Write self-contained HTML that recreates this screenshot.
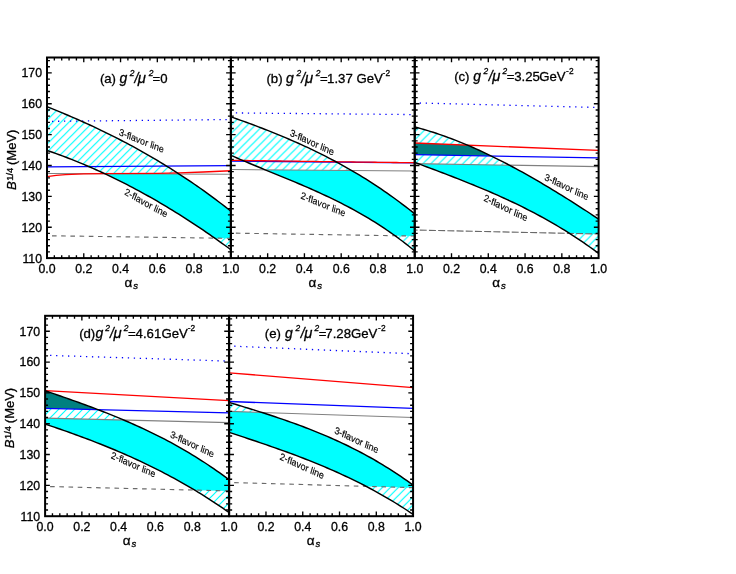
<!DOCTYPE html><html><head><meta charset="utf-8"><style>html,body{margin:0;padding:0;background:#fff}text{stroke:#000;stroke-width:0.3px;stroke-linejoin:round}</style></head><body><svg width="736" height="574" viewBox="0 0 736 574" style="display:block;will-change:transform;font-family:'Liberation Sans',sans-serif">
<defs>
<pattern id="hatcha" patternUnits="userSpaceOnUse" width="8.0" height="8.0" x="7.2" y="0"><path d="M-8.0,8.0 L8.0,-8.0 M0,8.0 L8.0,0 M0,16.0 L16.0,0" stroke="#00ffff" stroke-width="1.2" fill="none"/></pattern>
<pattern id="hatchb" patternUnits="userSpaceOnUse" width="8.0" height="8.0" x="4.5" y="0"><path d="M-8.0,8.0 L8.0,-8.0 M0,8.0 L8.0,0 M0,16.0 L16.0,0" stroke="#00ffff" stroke-width="1.2" fill="none"/></pattern>
<pattern id="hatchc" patternUnits="userSpaceOnUse" width="8.0" height="8.0" x="2.6" y="0"><path d="M-8.0,8.0 L8.0,-8.0 M0,8.0 L8.0,0 M0,16.0 L16.0,0" stroke="#00ffff" stroke-width="1.2" fill="none"/></pattern>
<pattern id="hatchd" patternUnits="userSpaceOnUse" width="8.0" height="8.0" x="4.0" y="0"><path d="M-8.0,8.0 L8.0,-8.0 M0,8.0 L8.0,0 M0,16.0 L16.0,0" stroke="#00ffff" stroke-width="1.2" fill="none"/></pattern>
<pattern id="hatche" patternUnits="userSpaceOnUse" width="8.0" height="8.0" x="5.8" y="0"><path d="M-8.0,8.0 L8.0,-8.0 M0,8.0 L8.0,0 M0,16.0 L16.0,0" stroke="#00ffff" stroke-width="1.2" fill="none"/></pattern>
</defs>
<rect width="736" height="574" fill="#fff"/>
<clipPath id="banda"><path d="M47.00,106.71 L50.06,107.93 L53.13,109.17 L56.19,110.41 L59.26,111.67 L62.32,112.94 L65.39,114.23 L68.45,115.52 L71.52,116.84 L74.58,118.16 L77.64,119.51 L80.71,120.86 L83.77,122.24 L86.84,123.62 L89.90,125.03 L92.97,126.45 L96.03,127.88 L99.10,129.33 L102.16,130.80 L105.23,132.29 L108.29,133.79 L111.35,135.31 L114.42,136.85 L117.48,138.41 L120.55,139.99 L123.61,141.58 L126.68,143.19 L129.74,144.83 L132.81,146.48 L135.87,148.15 L138.94,149.84 L142.00,151.55 L145.06,153.28 L148.13,155.04 L151.19,156.81 L154.26,158.61 L157.32,160.42 L160.39,162.26 L163.45,164.12 L166.52,166.01 L169.58,167.91 L172.64,169.84 L175.71,171.79 L178.77,173.77 L181.84,175.77 L184.90,177.79 L187.97,179.84 L191.03,181.91 L194.10,184.01 L197.16,186.13 L200.23,188.28 L203.29,190.45 L206.35,192.65 L209.42,194.87 L212.48,197.12 L215.55,199.40 L218.61,201.71 L221.68,204.04 L224.74,206.40 L227.81,208.78 L230.87,211.20 L230.87,249.77 L227.81,247.51 L224.74,245.28 L221.68,243.06 L218.61,240.87 L215.55,238.69 L212.48,236.54 L209.42,234.41 L206.35,232.29 L203.29,230.20 L200.23,228.13 L197.16,226.07 L194.10,224.04 L191.03,222.03 L187.97,220.04 L184.90,218.07 L181.84,216.12 L178.77,214.19 L175.71,212.28 L172.64,210.39 L169.58,208.52 L166.52,206.67 L163.45,204.84 L160.39,203.03 L157.32,201.24 L154.26,199.47 L151.19,197.73 L148.13,196.00 L145.06,194.29 L142.00,192.60 L138.94,190.94 L135.87,189.29 L132.81,187.66 L129.74,186.06 L126.68,184.47 L123.61,182.91 L120.55,181.36 L117.48,179.84 L114.42,178.34 L111.35,176.85 L108.29,175.39 L105.23,173.94 L102.16,172.52 L99.10,171.12 L96.03,169.74 L92.97,168.37 L89.90,167.03 L86.84,165.71 L83.77,164.41 L80.71,163.13 L77.64,161.87 L74.58,160.63 L71.52,159.41 L68.45,158.21 L65.39,157.03 L62.32,155.87 L59.26,154.73 L56.19,153.62 L53.13,152.52 L50.06,151.44 L47.00,150.38 Z"/></clipPath>
<clipPath id="fra"><rect x="47.00" y="57.50" width="183.87" height="200.60"/></clipPath>
<g clip-path="url(#fra)">
<g clip-path="url(#banda)">
<path d="M47.00,106.71 L50.06,107.93 L53.13,109.17 L56.19,110.41 L59.26,111.67 L62.32,112.94 L65.39,114.23 L68.45,115.52 L71.52,116.84 L74.58,118.16 L77.64,119.51 L80.71,120.86 L83.77,122.24 L86.84,123.62 L89.90,125.03 L92.97,126.45 L96.03,127.88 L99.10,129.33 L102.16,130.80 L105.23,132.29 L108.29,133.79 L111.35,135.31 L114.42,136.85 L117.48,138.41 L120.55,139.99 L123.61,141.58 L126.68,143.19 L129.74,144.83 L132.81,146.48 L135.87,148.15 L138.94,149.84 L142.00,151.55 L145.06,153.28 L148.13,155.04 L151.19,156.81 L154.26,158.61 L157.32,160.42 L160.39,162.26 L163.45,164.12 L166.52,166.01 L169.58,167.91 L172.64,169.84 L175.71,171.79 L178.77,173.77 L181.84,175.77 L184.90,177.79 L187.97,179.84 L191.03,181.91 L194.10,184.01 L197.16,186.13 L200.23,188.28 L203.29,190.45 L206.35,192.65 L209.42,194.87 L212.48,197.12 L215.55,199.40 L218.61,201.71 L221.68,204.04 L224.74,206.40 L227.81,208.78 L230.87,211.20 L230.87,249.77 L227.81,247.51 L224.74,245.28 L221.68,243.06 L218.61,240.87 L215.55,238.69 L212.48,236.54 L209.42,234.41 L206.35,232.29 L203.29,230.20 L200.23,228.13 L197.16,226.07 L194.10,224.04 L191.03,222.03 L187.97,220.04 L184.90,218.07 L181.84,216.12 L178.77,214.19 L175.71,212.28 L172.64,210.39 L169.58,208.52 L166.52,206.67 L163.45,204.84 L160.39,203.03 L157.32,201.24 L154.26,199.47 L151.19,197.73 L148.13,196.00 L145.06,194.29 L142.00,192.60 L138.94,190.94 L135.87,189.29 L132.81,187.66 L129.74,186.06 L126.68,184.47 L123.61,182.91 L120.55,181.36 L117.48,179.84 L114.42,178.34 L111.35,176.85 L108.29,175.39 L105.23,173.94 L102.16,172.52 L99.10,171.12 L96.03,169.74 L92.97,168.37 L89.90,167.03 L86.84,165.71 L83.77,164.41 L80.71,163.13 L77.64,161.87 L74.58,160.63 L71.52,159.41 L68.45,158.21 L65.39,157.03 L62.32,155.87 L59.26,154.73 L56.19,153.62 L53.13,152.52 L50.06,151.44 L47.00,150.38 Z" fill="url(#hatcha)"/>
<path d="M47.00,173.54 L230.87,174.31 L230.87,238.35 L47.00,235.73 Z" fill="#00ffff"/>
</g>
<path d="M47.00,173.54 L230.87,174.31" stroke="#808080" stroke-width="1.1" fill="none"/>
<path d="M47.00,235.73 L230.87,238.35" stroke="#6a6a6a" stroke-width="1.15" stroke-dasharray="4.6,4.6" stroke-dashoffset="4.2" fill="none"/>
<path d="M47.00,166.90 L230.87,165.67" stroke="#0000ff" stroke-width="1.3" fill="none"/>
<path d="M47.00,176.63 L56.19,175.39 L65.39,174.62 L83.77,173.85 L102.16,173.54 L157.32,173.39 L179.39,172.92 L203.29,172.00 L230.87,170.76" stroke="#ff0000" stroke-width="1.3" fill="none" stroke-linejoin="round"/>
<path d="M47.00,121.38 L230.87,119.53" stroke="#0000ff" stroke-width="1.3" stroke-dasharray="1.3,4.68" stroke-dashoffset="-5" fill="none"/>
<path d="M47.00,106.71 L50.06,107.93 L53.13,109.17 L56.19,110.41 L59.26,111.67 L62.32,112.94 L65.39,114.23 L68.45,115.52 L71.52,116.84 L74.58,118.16 L77.64,119.51 L80.71,120.86 L83.77,122.24 L86.84,123.62 L89.90,125.03 L92.97,126.45 L96.03,127.88 L99.10,129.33 L102.16,130.80 L105.23,132.29 L108.29,133.79 L111.35,135.31 L114.42,136.85 L117.48,138.41 L120.55,139.99 L123.61,141.58 L126.68,143.19 L129.74,144.83 L132.81,146.48 L135.87,148.15 L138.94,149.84 L142.00,151.55 L145.06,153.28 L148.13,155.04 L151.19,156.81 L154.26,158.61 L157.32,160.42 L160.39,162.26 L163.45,164.12 L166.52,166.01 L169.58,167.91 L172.64,169.84 L175.71,171.79 L178.77,173.77 L181.84,175.77 L184.90,177.79 L187.97,179.84 L191.03,181.91 L194.10,184.01 L197.16,186.13 L200.23,188.28 L203.29,190.45 L206.35,192.65 L209.42,194.87 L212.48,197.12 L215.55,199.40 L218.61,201.71 L221.68,204.04 L224.74,206.40 L227.81,208.78 L230.87,211.20" stroke="#000" stroke-width="1.45" fill="none"/>
<path d="M47.00,150.38 L50.06,151.44 L53.13,152.52 L56.19,153.62 L59.26,154.73 L62.32,155.87 L65.39,157.03 L68.45,158.21 L71.52,159.41 L74.58,160.63 L77.64,161.87 L80.71,163.13 L83.77,164.41 L86.84,165.71 L89.90,167.03 L92.97,168.37 L96.03,169.74 L99.10,171.12 L102.16,172.52 L105.23,173.94 L108.29,175.39 L111.35,176.85 L114.42,178.34 L117.48,179.84 L120.55,181.36 L123.61,182.91 L126.68,184.47 L129.74,186.06 L132.81,187.66 L135.87,189.29 L138.94,190.94 L142.00,192.60 L145.06,194.29 L148.13,196.00 L151.19,197.73 L154.26,199.47 L157.32,201.24 L160.39,203.03 L163.45,204.84 L166.52,206.67 L169.58,208.52 L172.64,210.39 L175.71,212.28 L178.77,214.19 L181.84,216.12 L184.90,218.07 L187.97,220.04 L191.03,222.03 L194.10,224.04 L197.16,226.07 L200.23,228.13 L203.29,230.20 L206.35,232.29 L209.42,234.41 L212.48,236.54 L215.55,238.69 L218.61,240.87 L221.68,243.06 L224.74,245.28 L227.81,247.51 L230.87,249.77" stroke="#000" stroke-width="1.45" fill="none"/>
</g>
<rect x="47.00" y="57.50" width="183.87" height="200.60" fill="none" stroke="#000" stroke-width="2"/>
<path d="M54.35,57.50 v2.95 M54.35,258.10 v-2.95 M61.71,57.50 v2.95 M61.71,258.10 v-2.95 M69.06,57.50 v2.95 M69.06,258.10 v-2.95 M76.42,57.50 v2.95 M76.42,258.10 v-2.95 M83.77,57.50 v4.75 M83.77,258.10 v-4.75 M91.13,57.50 v2.95 M91.13,258.10 v-2.95 M98.48,57.50 v2.95 M98.48,258.10 v-2.95 M105.84,57.50 v2.95 M105.84,258.10 v-2.95 M113.19,57.50 v2.95 M113.19,258.10 v-2.95 M120.55,57.50 v4.75 M120.55,258.10 v-4.75 M127.90,57.50 v2.95 M127.90,258.10 v-2.95 M135.26,57.50 v2.95 M135.26,258.10 v-2.95 M142.61,57.50 v2.95 M142.61,258.10 v-2.95 M149.97,57.50 v2.95 M149.97,258.10 v-2.95 M157.32,57.50 v4.75 M157.32,258.10 v-4.75 M164.68,57.50 v2.95 M164.68,258.10 v-2.95 M172.03,57.50 v2.95 M172.03,258.10 v-2.95 M179.39,57.50 v2.95 M179.39,258.10 v-2.95 M186.74,57.50 v2.95 M186.74,258.10 v-2.95 M194.10,57.50 v4.75 M194.10,258.10 v-4.75 M201.45,57.50 v2.95 M201.45,258.10 v-2.95 M208.81,57.50 v2.95 M208.81,258.10 v-2.95 M216.16,57.50 v2.95 M216.16,258.10 v-2.95 M223.52,57.50 v2.95 M223.52,258.10 v-2.95 M47.00,251.93 h2.95 M230.87,251.93 h-2.95 M47.00,245.76 h2.95 M230.87,245.76 h-2.95 M47.00,239.58 h2.95 M230.87,239.58 h-2.95 M47.00,233.41 h2.95 M230.87,233.41 h-2.95 M47.00,227.24 h4.75 M230.87,227.24 h-4.75 M47.00,221.07 h2.95 M230.87,221.07 h-2.95 M47.00,214.89 h2.95 M230.87,214.89 h-2.95 M47.00,208.72 h2.95 M230.87,208.72 h-2.95 M47.00,202.55 h2.95 M230.87,202.55 h-2.95 M47.00,196.38 h4.75 M230.87,196.38 h-4.75 M47.00,190.20 h2.95 M230.87,190.20 h-2.95 M47.00,184.03 h2.95 M230.87,184.03 h-2.95 M47.00,177.86 h2.95 M230.87,177.86 h-2.95 M47.00,171.69 h2.95 M230.87,171.69 h-2.95 M47.00,165.52 h4.75 M230.87,165.52 h-4.75 M47.00,159.34 h2.95 M230.87,159.34 h-2.95 M47.00,153.17 h2.95 M230.87,153.17 h-2.95 M47.00,147.00 h2.95 M230.87,147.00 h-2.95 M47.00,140.83 h2.95 M230.87,140.83 h-2.95 M47.00,134.65 h4.75 M230.87,134.65 h-4.75 M47.00,128.48 h2.95 M230.87,128.48 h-2.95 M47.00,122.31 h2.95 M230.87,122.31 h-2.95 M47.00,116.14 h2.95 M230.87,116.14 h-2.95 M47.00,109.96 h2.95 M230.87,109.96 h-2.95 M47.00,103.79 h4.75 M230.87,103.79 h-4.75 M47.00,97.62 h2.95 M230.87,97.62 h-2.95 M47.00,91.45 h2.95 M230.87,91.45 h-2.95 M47.00,85.28 h2.95 M230.87,85.28 h-2.95 M47.00,79.10 h2.95 M230.87,79.10 h-2.95 M47.00,72.93 h4.75 M230.87,72.93 h-4.75 M47.00,66.76 h2.95 M230.87,66.76 h-2.95 M47.00,60.59 h2.95 M230.87,60.59 h-2.95" stroke="#000" stroke-width="1.35" fill="none"/>
<text x="42.00" y="262.50" font-size="12.3" text-anchor="end">110</text>
<text x="42.00" y="231.64" font-size="12.3" text-anchor="end">120</text>
<text x="42.00" y="200.78" font-size="12.3" text-anchor="end">130</text>
<text x="42.00" y="169.92" font-size="12.3" text-anchor="end">140</text>
<text x="42.00" y="139.05" font-size="12.3" text-anchor="end">150</text>
<text x="42.00" y="108.19" font-size="12.3" text-anchor="end">160</text>
<text x="42.00" y="77.33" font-size="12.3" text-anchor="end">170</text>
<text x="47.00" y="273.00" font-size="12.3" text-anchor="middle">0.0</text>
<text x="83.77" y="273.00" font-size="12.3" text-anchor="middle">0.2</text>
<text x="120.55" y="273.00" font-size="12.3" text-anchor="middle">0.4</text>
<text x="157.32" y="273.00" font-size="12.3" text-anchor="middle">0.6</text>
<text x="194.10" y="273.00" font-size="12.3" text-anchor="middle">0.8</text>
<text x="230.87" y="273.00" font-size="12.3" text-anchor="middle">1.0</text>
<text x="124.60" y="286.60" font-size="13.5">α</text><text x="133.30" y="289.00" font-size="9.5" font-style="italic">s</text>
<text transform="matrix(0.9291,0.3697,-0.2286,1.0146,118.50,135.10)" x="0" y="0" font-size="9.3" style="stroke-width:0.15px">3-flavor line</text>
<text transform="matrix(0.8712,0.4909,-0.3625,0.9748,124.10,194.30)" x="0" y="0" font-size="9.3" style="stroke-width:0.15px">2-flavor line</text>
<clipPath id="bandb"><path d="M230.87,116.80 L233.93,117.88 L237.00,118.97 L240.06,120.06 L243.13,121.17 L246.19,122.28 L249.26,123.41 L252.32,124.54 L255.39,125.69 L258.45,126.85 L261.51,128.02 L264.58,129.21 L267.64,130.41 L270.71,131.62 L273.77,132.85 L276.84,134.09 L279.90,135.35 L282.97,136.63 L286.03,137.92 L289.10,139.23 L292.16,140.55 L295.22,141.90 L298.29,143.26 L301.35,144.64 L304.42,146.04 L307.48,147.46 L310.55,148.90 L313.61,150.37 L316.68,151.85 L319.74,153.36 L322.81,154.89 L325.87,156.44 L328.93,158.02 L332.00,159.62 L335.06,161.25 L338.13,162.90 L341.19,164.58 L344.26,166.28 L347.32,168.01 L350.39,169.77 L353.45,171.55 L356.51,173.36 L359.58,175.21 L362.64,177.08 L365.71,178.98 L368.77,180.91 L371.84,182.87 L374.90,184.87 L377.97,186.89 L381.03,188.95 L384.10,191.04 L387.16,193.17 L390.22,195.33 L393.29,197.52 L396.35,199.75 L399.42,202.01 L402.48,204.31 L405.55,206.65 L408.61,209.02 L411.68,211.43 L414.74,213.88 L414.74,250.98 L411.68,248.47 L408.61,246.02 L405.55,243.62 L402.48,241.26 L399.42,238.96 L396.35,236.71 L393.29,234.51 L390.22,232.35 L387.16,230.24 L384.10,228.17 L381.03,226.14 L377.97,224.16 L374.90,222.22 L371.84,220.32 L368.77,218.45 L365.71,216.62 L362.64,214.83 L359.58,213.08 L356.51,211.36 L353.45,209.67 L350.39,208.01 L347.32,206.38 L344.26,204.78 L341.19,203.21 L338.13,201.66 L335.06,200.14 L332.00,198.65 L328.93,197.18 L325.87,195.73 L322.81,194.30 L319.74,192.89 L316.68,191.50 L313.61,190.12 L310.55,188.77 L307.48,187.42 L304.42,186.10 L301.35,184.78 L298.29,183.48 L295.22,182.18 L292.16,180.90 L289.10,179.62 L286.03,178.35 L282.97,177.08 L279.90,175.82 L276.84,174.57 L273.77,173.31 L270.71,172.06 L267.64,170.80 L264.58,169.55 L261.51,168.29 L258.45,167.03 L255.39,165.76 L252.32,164.49 L249.26,163.21 L246.19,161.92 L243.13,160.62 L240.06,159.31 L237.00,157.99 L233.93,156.65 L230.87,155.31 Z"/></clipPath>
<clipPath id="frb"><rect x="230.87" y="57.50" width="183.87" height="200.60"/></clipPath>
<g clip-path="url(#frb)">
<g clip-path="url(#bandb)">
<path d="M230.87,116.80 L233.93,117.88 L237.00,118.97 L240.06,120.06 L243.13,121.17 L246.19,122.28 L249.26,123.41 L252.32,124.54 L255.39,125.69 L258.45,126.85 L261.51,128.02 L264.58,129.21 L267.64,130.41 L270.71,131.62 L273.77,132.85 L276.84,134.09 L279.90,135.35 L282.97,136.63 L286.03,137.92 L289.10,139.23 L292.16,140.55 L295.22,141.90 L298.29,143.26 L301.35,144.64 L304.42,146.04 L307.48,147.46 L310.55,148.90 L313.61,150.37 L316.68,151.85 L319.74,153.36 L322.81,154.89 L325.87,156.44 L328.93,158.02 L332.00,159.62 L335.06,161.25 L338.13,162.90 L341.19,164.58 L344.26,166.28 L347.32,168.01 L350.39,169.77 L353.45,171.55 L356.51,173.36 L359.58,175.21 L362.64,177.08 L365.71,178.98 L368.77,180.91 L371.84,182.87 L374.90,184.87 L377.97,186.89 L381.03,188.95 L384.10,191.04 L387.16,193.17 L390.22,195.33 L393.29,197.52 L396.35,199.75 L399.42,202.01 L402.48,204.31 L405.55,206.65 L408.61,209.02 L411.68,211.43 L414.74,213.88 L414.74,250.98 L411.68,248.47 L408.61,246.02 L405.55,243.62 L402.48,241.26 L399.42,238.96 L396.35,236.71 L393.29,234.51 L390.22,232.35 L387.16,230.24 L384.10,228.17 L381.03,226.14 L377.97,224.16 L374.90,222.22 L371.84,220.32 L368.77,218.45 L365.71,216.62 L362.64,214.83 L359.58,213.08 L356.51,211.36 L353.45,209.67 L350.39,208.01 L347.32,206.38 L344.26,204.78 L341.19,203.21 L338.13,201.66 L335.06,200.14 L332.00,198.65 L328.93,197.18 L325.87,195.73 L322.81,194.30 L319.74,192.89 L316.68,191.50 L313.61,190.12 L310.55,188.77 L307.48,187.42 L304.42,186.10 L301.35,184.78 L298.29,183.48 L295.22,182.18 L292.16,180.90 L289.10,179.62 L286.03,178.35 L282.97,177.08 L279.90,175.82 L276.84,174.57 L273.77,173.31 L270.71,172.06 L267.64,170.80 L264.58,169.55 L261.51,168.29 L258.45,167.03 L255.39,165.76 L252.32,164.49 L249.26,163.21 L246.19,161.92 L243.13,160.62 L240.06,159.31 L237.00,157.99 L233.93,156.65 L230.87,155.31 Z" fill="url(#hatchb)"/>
<path d="M230.87,169.53 L414.74,171.07 L414.74,236.03 L230.87,233.10 Z" fill="#00ffff"/>
</g>
<path d="M230.87,169.53 L414.74,171.07" stroke="#808080" stroke-width="1.1" fill="none"/>
<path d="M230.87,233.10 L414.74,236.03" stroke="#6a6a6a" stroke-width="1.15" stroke-dasharray="4.6,4.6" stroke-dashoffset="4.2" fill="none"/>
<path d="M230.87,161.04 L414.74,162.89" stroke="#0000ff" stroke-width="1.3" fill="none"/>
<path d="M230.87,160.27 L233.93,160.32 L237.00,160.36 L240.06,160.41 L243.13,160.45 L246.19,160.50 L249.26,160.55 L252.32,160.59 L255.39,160.64 L258.45,160.68 L261.51,160.73 L264.58,160.77 L267.64,160.82 L270.71,160.86 L273.77,160.91 L276.84,160.95 L279.90,160.99 L282.97,161.04 L286.03,161.08 L289.10,161.12 L292.16,161.17 L295.22,161.21 L298.29,161.25 L301.35,161.30 L304.42,161.34 L307.48,161.38 L310.55,161.42 L313.61,161.46 L316.68,161.51 L319.74,161.55 L322.81,161.59 L325.87,161.63 L328.93,161.67 L332.00,161.71 L335.06,161.75 L338.13,161.79 L341.19,161.83 L344.26,161.87 L347.32,161.91 L350.39,161.95 L353.45,161.99 L356.51,162.03 L359.58,162.07 L362.64,162.11 L365.71,162.15 L368.77,162.18 L371.84,162.22 L374.90,162.26 L377.97,162.30 L381.03,162.34 L384.10,162.37 L387.16,162.41 L390.22,162.45 L393.29,162.49 L396.35,162.52 L399.42,162.56 L402.48,162.59 L405.55,162.63 L408.61,162.67 L411.68,162.70 L414.74,162.74" stroke="#ff0000" stroke-width="1.3" fill="none"/>
<path d="M230.87,112.90 L414.74,114.59" stroke="#0000ff" stroke-width="1.3" stroke-dasharray="1.3,4.68" stroke-dashoffset="-5" fill="none"/>
<path d="M230.87,116.80 L233.93,117.88 L237.00,118.97 L240.06,120.06 L243.13,121.17 L246.19,122.28 L249.26,123.41 L252.32,124.54 L255.39,125.69 L258.45,126.85 L261.51,128.02 L264.58,129.21 L267.64,130.41 L270.71,131.62 L273.77,132.85 L276.84,134.09 L279.90,135.35 L282.97,136.63 L286.03,137.92 L289.10,139.23 L292.16,140.55 L295.22,141.90 L298.29,143.26 L301.35,144.64 L304.42,146.04 L307.48,147.46 L310.55,148.90 L313.61,150.37 L316.68,151.85 L319.74,153.36 L322.81,154.89 L325.87,156.44 L328.93,158.02 L332.00,159.62 L335.06,161.25 L338.13,162.90 L341.19,164.58 L344.26,166.28 L347.32,168.01 L350.39,169.77 L353.45,171.55 L356.51,173.36 L359.58,175.21 L362.64,177.08 L365.71,178.98 L368.77,180.91 L371.84,182.87 L374.90,184.87 L377.97,186.89 L381.03,188.95 L384.10,191.04 L387.16,193.17 L390.22,195.33 L393.29,197.52 L396.35,199.75 L399.42,202.01 L402.48,204.31 L405.55,206.65 L408.61,209.02 L411.68,211.43 L414.74,213.88" stroke="#000" stroke-width="1.45" fill="none"/>
<path d="M230.87,155.31 L233.93,156.65 L237.00,157.99 L240.06,159.31 L243.13,160.62 L246.19,161.92 L249.26,163.21 L252.32,164.49 L255.39,165.76 L258.45,167.03 L261.51,168.29 L264.58,169.55 L267.64,170.80 L270.71,172.06 L273.77,173.31 L276.84,174.57 L279.90,175.82 L282.97,177.08 L286.03,178.35 L289.10,179.62 L292.16,180.90 L295.22,182.18 L298.29,183.48 L301.35,184.78 L304.42,186.10 L307.48,187.42 L310.55,188.77 L313.61,190.12 L316.68,191.50 L319.74,192.89 L322.81,194.30 L325.87,195.73 L328.93,197.18 L332.00,198.65 L335.06,200.14 L338.13,201.66 L341.19,203.21 L344.26,204.78 L347.32,206.38 L350.39,208.01 L353.45,209.67 L356.51,211.36 L359.58,213.08 L362.64,214.83 L365.71,216.62 L368.77,218.45 L371.84,220.32 L374.90,222.22 L377.97,224.16 L381.03,226.14 L384.10,228.17 L387.16,230.24 L390.22,232.35 L393.29,234.51 L396.35,236.71 L399.42,238.96 L402.48,241.26 L405.55,243.62 L408.61,246.02 L411.68,248.47 L414.74,250.98" stroke="#000" stroke-width="1.45" fill="none"/>
</g>
<rect x="230.87" y="57.50" width="183.87" height="200.60" fill="none" stroke="#000" stroke-width="2"/>
<path d="M238.22,57.50 v2.95 M238.22,258.10 v-2.95 M245.58,57.50 v2.95 M245.58,258.10 v-2.95 M252.93,57.50 v2.95 M252.93,258.10 v-2.95 M260.29,57.50 v2.95 M260.29,258.10 v-2.95 M267.64,57.50 v4.75 M267.64,258.10 v-4.75 M275.00,57.50 v2.95 M275.00,258.10 v-2.95 M282.35,57.50 v2.95 M282.35,258.10 v-2.95 M289.71,57.50 v2.95 M289.71,258.10 v-2.95 M297.06,57.50 v2.95 M297.06,258.10 v-2.95 M304.42,57.50 v4.75 M304.42,258.10 v-4.75 M311.77,57.50 v2.95 M311.77,258.10 v-2.95 M319.13,57.50 v2.95 M319.13,258.10 v-2.95 M326.48,57.50 v2.95 M326.48,258.10 v-2.95 M333.84,57.50 v2.95 M333.84,258.10 v-2.95 M341.19,57.50 v4.75 M341.19,258.10 v-4.75 M348.55,57.50 v2.95 M348.55,258.10 v-2.95 M355.90,57.50 v2.95 M355.90,258.10 v-2.95 M363.26,57.50 v2.95 M363.26,258.10 v-2.95 M370.61,57.50 v2.95 M370.61,258.10 v-2.95 M377.97,57.50 v4.75 M377.97,258.10 v-4.75 M385.32,57.50 v2.95 M385.32,258.10 v-2.95 M392.68,57.50 v2.95 M392.68,258.10 v-2.95 M400.03,57.50 v2.95 M400.03,258.10 v-2.95 M407.39,57.50 v2.95 M407.39,258.10 v-2.95 M230.87,251.93 h2.95 M414.74,251.93 h-2.95 M230.87,245.76 h2.95 M414.74,245.76 h-2.95 M230.87,239.58 h2.95 M414.74,239.58 h-2.95 M230.87,233.41 h2.95 M414.74,233.41 h-2.95 M230.87,227.24 h4.75 M414.74,227.24 h-4.75 M230.87,221.07 h2.95 M414.74,221.07 h-2.95 M230.87,214.89 h2.95 M414.74,214.89 h-2.95 M230.87,208.72 h2.95 M414.74,208.72 h-2.95 M230.87,202.55 h2.95 M414.74,202.55 h-2.95 M230.87,196.38 h4.75 M414.74,196.38 h-4.75 M230.87,190.20 h2.95 M414.74,190.20 h-2.95 M230.87,184.03 h2.95 M414.74,184.03 h-2.95 M230.87,177.86 h2.95 M414.74,177.86 h-2.95 M230.87,171.69 h2.95 M414.74,171.69 h-2.95 M230.87,165.52 h4.75 M414.74,165.52 h-4.75 M230.87,159.34 h2.95 M414.74,159.34 h-2.95 M230.87,153.17 h2.95 M414.74,153.17 h-2.95 M230.87,147.00 h2.95 M414.74,147.00 h-2.95 M230.87,140.83 h2.95 M414.74,140.83 h-2.95 M230.87,134.65 h4.75 M414.74,134.65 h-4.75 M230.87,128.48 h2.95 M414.74,128.48 h-2.95 M230.87,122.31 h2.95 M414.74,122.31 h-2.95 M230.87,116.14 h2.95 M414.74,116.14 h-2.95 M230.87,109.96 h2.95 M414.74,109.96 h-2.95 M230.87,103.79 h4.75 M414.74,103.79 h-4.75 M230.87,97.62 h2.95 M414.74,97.62 h-2.95 M230.87,91.45 h2.95 M414.74,91.45 h-2.95 M230.87,85.28 h2.95 M414.74,85.28 h-2.95 M230.87,79.10 h2.95 M414.74,79.10 h-2.95 M230.87,72.93 h4.75 M414.74,72.93 h-4.75 M230.87,66.76 h2.95 M414.74,66.76 h-2.95 M230.87,60.59 h2.95 M414.74,60.59 h-2.95" stroke="#000" stroke-width="1.35" fill="none"/>
<text x="267.64" y="273.00" font-size="12.3" text-anchor="middle">0.2</text>
<text x="304.42" y="273.00" font-size="12.3" text-anchor="middle">0.4</text>
<text x="341.19" y="273.00" font-size="12.3" text-anchor="middle">0.6</text>
<text x="377.97" y="273.00" font-size="12.3" text-anchor="middle">0.8</text>
<text x="414.74" y="273.00" font-size="12.3" text-anchor="middle">1.0</text>
<text x="308.47" y="286.60" font-size="13.5">α</text><text x="317.17" y="289.00" font-size="9.5" font-style="italic">s</text>
<text transform="matrix(0.9063,0.4226,-0.2867,0.9997,289.40,135.40)" x="0" y="0" font-size="9.3" style="stroke-width:0.15px">3-flavor line</text>
<text transform="matrix(0.9232,0.3843,-0.2445,1.0108,300.20,198.30)" x="0" y="0" font-size="9.3" style="stroke-width:0.15px">2-flavor line</text>
<clipPath id="bandc"><path d="M414.74,126.94 L417.80,127.75 L420.87,128.60 L423.93,129.48 L427.00,130.39 L430.06,131.33 L433.13,132.30 L436.19,133.30 L439.26,134.33 L442.32,135.39 L445.38,136.48 L448.45,137.60 L451.51,138.75 L454.58,139.92 L457.64,141.12 L460.71,142.35 L463.77,143.61 L466.84,144.89 L469.90,146.20 L472.97,147.53 L476.03,148.89 L479.09,150.27 L482.16,151.68 L485.22,153.11 L488.29,154.56 L491.35,156.04 L494.42,157.54 L497.48,159.06 L500.55,160.60 L503.61,162.17 L506.68,163.75 L509.74,165.36 L512.80,166.99 L515.87,168.63 L518.93,170.30 L522.00,171.98 L525.06,173.68 L528.13,175.40 L531.19,177.14 L534.26,178.90 L537.32,180.67 L540.38,182.46 L543.45,184.27 L546.51,186.09 L549.58,187.92 L552.64,189.77 L555.71,191.64 L558.77,193.52 L561.84,195.41 L564.90,197.32 L567.97,199.24 L571.03,201.17 L574.09,203.12 L577.16,205.07 L580.22,207.04 L583.29,209.02 L586.35,211.01 L589.42,213.01 L592.48,215.02 L595.55,217.03 L598.61,219.06 L598.61,253.44 L595.55,251.17 L592.48,248.94 L589.42,246.75 L586.35,244.59 L583.29,242.47 L580.22,240.39 L577.16,238.34 L574.09,236.33 L571.03,234.35 L567.97,232.40 L564.90,230.49 L561.84,228.60 L558.77,226.75 L555.71,224.93 L552.64,223.14 L549.58,221.38 L546.51,219.64 L543.45,217.94 L540.38,216.26 L537.32,214.60 L534.26,212.98 L531.19,211.38 L528.13,209.80 L525.06,208.24 L522.00,206.71 L518.93,205.20 L515.87,203.72 L512.80,202.25 L509.74,200.80 L506.68,199.38 L503.61,197.97 L500.55,196.58 L497.48,195.21 L494.42,193.86 L491.35,192.52 L488.29,191.19 L485.22,189.89 L482.16,188.59 L479.09,187.31 L476.03,186.05 L472.97,184.79 L469.90,183.55 L466.84,182.32 L463.77,181.09 L460.71,179.88 L457.64,178.68 L454.58,177.48 L451.51,176.29 L448.45,175.11 L445.38,173.94 L442.32,172.77 L439.26,171.60 L436.19,170.44 L433.13,169.29 L430.06,168.13 L427.00,166.98 L423.93,165.83 L420.87,164.68 L417.80,163.53 L414.74,162.38 Z"/></clipPath>
<clipPath id="frc"><rect x="414.74" y="57.50" width="183.87" height="200.60"/></clipPath>
<g clip-path="url(#frc)">
<g clip-path="url(#bandc)">
<path d="M414.74,126.94 L417.80,127.75 L420.87,128.60 L423.93,129.48 L427.00,130.39 L430.06,131.33 L433.13,132.30 L436.19,133.30 L439.26,134.33 L442.32,135.39 L445.38,136.48 L448.45,137.60 L451.51,138.75 L454.58,139.92 L457.64,141.12 L460.71,142.35 L463.77,143.61 L466.84,144.89 L469.90,146.20 L472.97,147.53 L476.03,148.89 L479.09,150.27 L482.16,151.68 L485.22,153.11 L488.29,154.56 L491.35,156.04 L494.42,157.54 L497.48,159.06 L500.55,160.60 L503.61,162.17 L506.68,163.75 L509.74,165.36 L512.80,166.99 L515.87,168.63 L518.93,170.30 L522.00,171.98 L525.06,173.68 L528.13,175.40 L531.19,177.14 L534.26,178.90 L537.32,180.67 L540.38,182.46 L543.45,184.27 L546.51,186.09 L549.58,187.92 L552.64,189.77 L555.71,191.64 L558.77,193.52 L561.84,195.41 L564.90,197.32 L567.97,199.24 L571.03,201.17 L574.09,203.12 L577.16,205.07 L580.22,207.04 L583.29,209.02 L586.35,211.01 L589.42,213.01 L592.48,215.02 L595.55,217.03 L598.61,219.06 L598.61,253.44 L595.55,251.17 L592.48,248.94 L589.42,246.75 L586.35,244.59 L583.29,242.47 L580.22,240.39 L577.16,238.34 L574.09,236.33 L571.03,234.35 L567.97,232.40 L564.90,230.49 L561.84,228.60 L558.77,226.75 L555.71,224.93 L552.64,223.14 L549.58,221.38 L546.51,219.64 L543.45,217.94 L540.38,216.26 L537.32,214.60 L534.26,212.98 L531.19,211.38 L528.13,209.80 L525.06,208.24 L522.00,206.71 L518.93,205.20 L515.87,203.72 L512.80,202.25 L509.74,200.80 L506.68,199.38 L503.61,197.97 L500.55,196.58 L497.48,195.21 L494.42,193.86 L491.35,192.52 L488.29,191.19 L485.22,189.89 L482.16,188.59 L479.09,187.31 L476.03,186.05 L472.97,184.79 L469.90,183.55 L466.84,182.32 L463.77,181.09 L460.71,179.88 L457.64,178.68 L454.58,177.48 L451.51,176.29 L448.45,175.11 L445.38,173.94 L442.32,172.77 L439.26,171.60 L436.19,170.44 L433.13,169.29 L430.06,168.13 L427.00,166.98 L423.93,165.83 L420.87,164.68 L417.80,163.53 L414.74,162.38 Z" fill="url(#hatchc)"/>
<path d="M414.74,163.66 L598.61,166.60 L598.61,234.03 L414.74,230.02 Z" fill="#00ffff"/>
<path d="M414.74,142.99 L598.61,150.39 L598.61,157.80 L414.74,154.71 Z" fill="#008080"/>
</g>
<path d="M414.74,163.66 L598.61,166.60" stroke="#808080" stroke-width="1.1" fill="none"/>
<path d="M414.74,230.02 L598.61,234.03" stroke="#6a6a6a" stroke-width="1.15" stroke-dasharray="7,2.2" stroke-dashoffset="4.2" fill="none"/>
<path d="M414.74,154.71 L598.61,157.80" stroke="#0000ff" stroke-width="1.3" fill="none"/>
<path d="M414.74,142.99 L598.61,150.39" stroke="#ff0000" stroke-width="1.3" fill="none"/>
<path d="M414.74,102.87 L598.61,107.50" stroke="#0000ff" stroke-width="1.3" stroke-dasharray="1.3,4.68" stroke-dashoffset="-5" fill="none"/>
<path d="M414.74,126.94 L417.80,127.75 L420.87,128.60 L423.93,129.48 L427.00,130.39 L430.06,131.33 L433.13,132.30 L436.19,133.30 L439.26,134.33 L442.32,135.39 L445.38,136.48 L448.45,137.60 L451.51,138.75 L454.58,139.92 L457.64,141.12 L460.71,142.35 L463.77,143.61 L466.84,144.89 L469.90,146.20 L472.97,147.53 L476.03,148.89 L479.09,150.27 L482.16,151.68 L485.22,153.11 L488.29,154.56 L491.35,156.04 L494.42,157.54 L497.48,159.06 L500.55,160.60 L503.61,162.17 L506.68,163.75 L509.74,165.36 L512.80,166.99 L515.87,168.63 L518.93,170.30 L522.00,171.98 L525.06,173.68 L528.13,175.40 L531.19,177.14 L534.26,178.90 L537.32,180.67 L540.38,182.46 L543.45,184.27 L546.51,186.09 L549.58,187.92 L552.64,189.77 L555.71,191.64 L558.77,193.52 L561.84,195.41 L564.90,197.32 L567.97,199.24 L571.03,201.17 L574.09,203.12 L577.16,205.07 L580.22,207.04 L583.29,209.02 L586.35,211.01 L589.42,213.01 L592.48,215.02 L595.55,217.03 L598.61,219.06" stroke="#000" stroke-width="1.45" fill="none"/>
<path d="M414.74,162.38 L417.80,163.53 L420.87,164.68 L423.93,165.83 L427.00,166.98 L430.06,168.13 L433.13,169.29 L436.19,170.44 L439.26,171.60 L442.32,172.77 L445.38,173.94 L448.45,175.11 L451.51,176.29 L454.58,177.48 L457.64,178.68 L460.71,179.88 L463.77,181.09 L466.84,182.32 L469.90,183.55 L472.97,184.79 L476.03,186.05 L479.09,187.31 L482.16,188.59 L485.22,189.89 L488.29,191.19 L491.35,192.52 L494.42,193.86 L497.48,195.21 L500.55,196.58 L503.61,197.97 L506.68,199.38 L509.74,200.80 L512.80,202.25 L515.87,203.72 L518.93,205.20 L522.00,206.71 L525.06,208.24 L528.13,209.80 L531.19,211.38 L534.26,212.98 L537.32,214.60 L540.38,216.26 L543.45,217.94 L546.51,219.64 L549.58,221.38 L552.64,223.14 L555.71,224.93 L558.77,226.75 L561.84,228.60 L564.90,230.49 L567.97,232.40 L571.03,234.35 L574.09,236.33 L577.16,238.34 L580.22,240.39 L583.29,242.47 L586.35,244.59 L589.42,246.75 L592.48,248.94 L595.55,251.17 L598.61,253.44" stroke="#000" stroke-width="1.45" fill="none"/>
</g>
<rect x="414.74" y="57.50" width="183.87" height="200.60" fill="none" stroke="#000" stroke-width="2"/>
<path d="M422.09,57.50 v2.95 M422.09,258.10 v-2.95 M429.45,57.50 v2.95 M429.45,258.10 v-2.95 M436.80,57.50 v2.95 M436.80,258.10 v-2.95 M444.16,57.50 v2.95 M444.16,258.10 v-2.95 M451.51,57.50 v4.75 M451.51,258.10 v-4.75 M458.87,57.50 v2.95 M458.87,258.10 v-2.95 M466.22,57.50 v2.95 M466.22,258.10 v-2.95 M473.58,57.50 v2.95 M473.58,258.10 v-2.95 M480.93,57.50 v2.95 M480.93,258.10 v-2.95 M488.29,57.50 v4.75 M488.29,258.10 v-4.75 M495.64,57.50 v2.95 M495.64,258.10 v-2.95 M503.00,57.50 v2.95 M503.00,258.10 v-2.95 M510.35,57.50 v2.95 M510.35,258.10 v-2.95 M517.71,57.50 v2.95 M517.71,258.10 v-2.95 M525.06,57.50 v4.75 M525.06,258.10 v-4.75 M532.42,57.50 v2.95 M532.42,258.10 v-2.95 M539.77,57.50 v2.95 M539.77,258.10 v-2.95 M547.13,57.50 v2.95 M547.13,258.10 v-2.95 M554.48,57.50 v2.95 M554.48,258.10 v-2.95 M561.84,57.50 v4.75 M561.84,258.10 v-4.75 M569.19,57.50 v2.95 M569.19,258.10 v-2.95 M576.55,57.50 v2.95 M576.55,258.10 v-2.95 M583.90,57.50 v2.95 M583.90,258.10 v-2.95 M591.26,57.50 v2.95 M591.26,258.10 v-2.95 M414.74,251.93 h2.95 M598.61,251.93 h-2.95 M414.74,245.76 h2.95 M598.61,245.76 h-2.95 M414.74,239.58 h2.95 M598.61,239.58 h-2.95 M414.74,233.41 h2.95 M598.61,233.41 h-2.95 M414.74,227.24 h4.75 M598.61,227.24 h-4.75 M414.74,221.07 h2.95 M598.61,221.07 h-2.95 M414.74,214.89 h2.95 M598.61,214.89 h-2.95 M414.74,208.72 h2.95 M598.61,208.72 h-2.95 M414.74,202.55 h2.95 M598.61,202.55 h-2.95 M414.74,196.38 h4.75 M598.61,196.38 h-4.75 M414.74,190.20 h2.95 M598.61,190.20 h-2.95 M414.74,184.03 h2.95 M598.61,184.03 h-2.95 M414.74,177.86 h2.95 M598.61,177.86 h-2.95 M414.74,171.69 h2.95 M598.61,171.69 h-2.95 M414.74,165.52 h4.75 M598.61,165.52 h-4.75 M414.74,159.34 h2.95 M598.61,159.34 h-2.95 M414.74,153.17 h2.95 M598.61,153.17 h-2.95 M414.74,147.00 h2.95 M598.61,147.00 h-2.95 M414.74,140.83 h2.95 M598.61,140.83 h-2.95 M414.74,134.65 h4.75 M598.61,134.65 h-4.75 M414.74,128.48 h2.95 M598.61,128.48 h-2.95 M414.74,122.31 h2.95 M598.61,122.31 h-2.95 M414.74,116.14 h2.95 M598.61,116.14 h-2.95 M414.74,109.96 h2.95 M598.61,109.96 h-2.95 M414.74,103.79 h4.75 M598.61,103.79 h-4.75 M414.74,97.62 h2.95 M598.61,97.62 h-2.95 M414.74,91.45 h2.95 M598.61,91.45 h-2.95 M414.74,85.28 h2.95 M598.61,85.28 h-2.95 M414.74,79.10 h2.95 M598.61,79.10 h-2.95 M414.74,72.93 h4.75 M598.61,72.93 h-4.75 M414.74,66.76 h2.95 M598.61,66.76 h-2.95 M414.74,60.59 h2.95 M598.61,60.59 h-2.95" stroke="#000" stroke-width="1.35" fill="none"/>
<text x="451.51" y="273.00" font-size="12.3" text-anchor="middle">0.2</text>
<text x="488.29" y="273.00" font-size="12.3" text-anchor="middle">0.4</text>
<text x="525.06" y="273.00" font-size="12.3" text-anchor="middle">0.6</text>
<text x="561.84" y="273.00" font-size="12.3" text-anchor="middle">0.8</text>
<text x="598.61" y="273.00" font-size="12.3" text-anchor="middle">1.0</text>
<text x="492.34" y="286.60" font-size="13.5">α</text><text x="501.04" y="289.00" font-size="9.5" font-style="italic">s</text>
<text transform="matrix(0.9011,0.4337,-0.2989,0.9961,544.10,179.70)" x="0" y="0" font-size="9.3" style="stroke-width:0.15px">3-flavor line</text>
<text transform="matrix(0.8980,0.4399,-0.3058,0.9940,483.20,200.50)" x="0" y="0" font-size="9.3" style="stroke-width:0.15px">2-flavor line</text>
<clipPath id="bandd"><path d="M45.10,390.72 L48.16,391.77 L51.23,392.83 L54.29,393.89 L57.36,394.95 L60.42,396.01 L63.49,397.09 L66.55,398.16 L69.62,399.24 L72.68,400.33 L75.75,401.43 L78.81,402.53 L81.87,403.64 L84.94,404.76 L88.00,405.89 L91.07,407.03 L94.13,408.19 L97.20,409.35 L100.26,410.53 L103.33,411.71 L106.39,412.92 L109.45,414.13 L112.52,415.37 L115.58,416.61 L118.65,417.88 L121.71,419.16 L124.78,420.46 L127.84,421.78 L130.91,423.11 L133.97,424.47 L137.03,425.84 L140.10,427.24 L143.16,428.65 L146.23,430.09 L149.29,431.56 L152.36,433.04 L155.42,434.55 L158.49,436.09 L161.55,437.64 L164.62,439.23 L167.68,440.84 L170.74,442.48 L173.81,444.15 L176.87,445.84 L179.94,447.57 L183.00,449.32 L186.07,451.11 L189.13,452.93 L192.20,454.77 L195.26,456.65 L198.33,458.57 L201.39,460.52 L204.45,462.50 L207.52,464.51 L210.58,466.57 L213.65,468.66 L216.71,470.78 L219.78,472.94 L222.84,475.15 L225.91,477.39 L228.97,479.67 L228.97,512.49 L225.91,510.34 L222.84,508.22 L219.78,506.13 L216.71,504.07 L213.65,502.05 L210.58,500.05 L207.52,498.08 L204.45,496.13 L201.39,494.22 L198.33,492.33 L195.26,490.47 L192.20,488.64 L189.13,486.83 L186.07,485.05 L183.00,483.30 L179.94,481.56 L176.87,479.86 L173.81,478.18 L170.74,476.52 L167.68,474.88 L164.62,473.27 L161.55,471.68 L158.49,470.12 L155.42,468.57 L152.36,467.05 L149.29,465.54 L146.23,464.06 L143.16,462.60 L140.10,461.16 L137.03,459.73 L133.97,458.33 L130.91,456.94 L127.84,455.58 L124.78,454.23 L121.71,452.90 L118.65,451.58 L115.58,450.28 L112.52,449.00 L109.45,447.73 L106.39,446.48 L103.33,445.24 L100.26,444.02 L97.20,442.81 L94.13,441.62 L91.07,440.44 L88.00,439.27 L84.94,438.11 L81.87,436.97 L78.81,435.84 L75.75,434.72 L72.68,433.61 L69.62,432.51 L66.55,431.42 L63.49,430.34 L60.42,429.27 L57.36,428.20 L54.29,427.15 L51.23,426.11 L48.16,425.07 L45.10,424.04 Z"/></clipPath>
<clipPath id="frd"><rect x="45.10" y="315.80" width="183.87" height="200.40"/></clipPath>
<g clip-path="url(#frd)">
<g clip-path="url(#bandd)">
<path d="M45.10,390.72 L48.16,391.77 L51.23,392.83 L54.29,393.89 L57.36,394.95 L60.42,396.01 L63.49,397.09 L66.55,398.16 L69.62,399.24 L72.68,400.33 L75.75,401.43 L78.81,402.53 L81.87,403.64 L84.94,404.76 L88.00,405.89 L91.07,407.03 L94.13,408.19 L97.20,409.35 L100.26,410.53 L103.33,411.71 L106.39,412.92 L109.45,414.13 L112.52,415.37 L115.58,416.61 L118.65,417.88 L121.71,419.16 L124.78,420.46 L127.84,421.78 L130.91,423.11 L133.97,424.47 L137.03,425.84 L140.10,427.24 L143.16,428.65 L146.23,430.09 L149.29,431.56 L152.36,433.04 L155.42,434.55 L158.49,436.09 L161.55,437.64 L164.62,439.23 L167.68,440.84 L170.74,442.48 L173.81,444.15 L176.87,445.84 L179.94,447.57 L183.00,449.32 L186.07,451.11 L189.13,452.93 L192.20,454.77 L195.26,456.65 L198.33,458.57 L201.39,460.52 L204.45,462.50 L207.52,464.51 L210.58,466.57 L213.65,468.66 L216.71,470.78 L219.78,472.94 L222.84,475.15 L225.91,477.39 L228.97,479.67 L228.97,512.49 L225.91,510.34 L222.84,508.22 L219.78,506.13 L216.71,504.07 L213.65,502.05 L210.58,500.05 L207.52,498.08 L204.45,496.13 L201.39,494.22 L198.33,492.33 L195.26,490.47 L192.20,488.64 L189.13,486.83 L186.07,485.05 L183.00,483.30 L179.94,481.56 L176.87,479.86 L173.81,478.18 L170.74,476.52 L167.68,474.88 L164.62,473.27 L161.55,471.68 L158.49,470.12 L155.42,468.57 L152.36,467.05 L149.29,465.54 L146.23,464.06 L143.16,462.60 L140.10,461.16 L137.03,459.73 L133.97,458.33 L130.91,456.94 L127.84,455.58 L124.78,454.23 L121.71,452.90 L118.65,451.58 L115.58,450.28 L112.52,449.00 L109.45,447.73 L106.39,446.48 L103.33,445.24 L100.26,444.02 L97.20,442.81 L94.13,441.62 L91.07,440.44 L88.00,439.27 L84.94,438.11 L81.87,436.97 L78.81,435.84 L75.75,434.72 L72.68,433.61 L69.62,432.51 L66.55,431.42 L63.49,430.34 L60.42,429.27 L57.36,428.20 L54.29,427.15 L51.23,426.11 L48.16,425.07 L45.10,424.04 Z" fill="url(#hatchd)"/>
<path d="M45.10,418.16 L228.97,422.63 L228.97,490.92 L45.10,486.45 Z" fill="#00ffff"/>
<path d="M45.10,390.72 L228.97,400.58 L228.97,412.92 L45.10,408.29 Z" fill="#008080"/>
</g>
<path d="M45.10,418.16 L228.97,422.63" stroke="#808080" stroke-width="1.1" fill="none"/>
<path d="M45.10,486.45 L228.97,490.92" stroke="#6a6a6a" stroke-width="1.15" stroke-dasharray="4.6,4.6" stroke-dashoffset="4.2" fill="none"/>
<path d="M45.10,408.29 L228.97,412.92" stroke="#0000ff" stroke-width="1.3" fill="none"/>
<path d="M45.10,390.72 L228.97,400.58" stroke="#ff0000" stroke-width="1.3" fill="none"/>
<path d="M45.10,355.26 L228.97,361.12" stroke="#0000ff" stroke-width="1.3" stroke-dasharray="1.3,4.68" stroke-dashoffset="-5" fill="none"/>
<path d="M45.10,390.72 L48.16,391.77 L51.23,392.83 L54.29,393.89 L57.36,394.95 L60.42,396.01 L63.49,397.09 L66.55,398.16 L69.62,399.24 L72.68,400.33 L75.75,401.43 L78.81,402.53 L81.87,403.64 L84.94,404.76 L88.00,405.89 L91.07,407.03 L94.13,408.19 L97.20,409.35 L100.26,410.53 L103.33,411.71 L106.39,412.92 L109.45,414.13 L112.52,415.37 L115.58,416.61 L118.65,417.88 L121.71,419.16 L124.78,420.46 L127.84,421.78 L130.91,423.11 L133.97,424.47 L137.03,425.84 L140.10,427.24 L143.16,428.65 L146.23,430.09 L149.29,431.56 L152.36,433.04 L155.42,434.55 L158.49,436.09 L161.55,437.64 L164.62,439.23 L167.68,440.84 L170.74,442.48 L173.81,444.15 L176.87,445.84 L179.94,447.57 L183.00,449.32 L186.07,451.11 L189.13,452.93 L192.20,454.77 L195.26,456.65 L198.33,458.57 L201.39,460.52 L204.45,462.50 L207.52,464.51 L210.58,466.57 L213.65,468.66 L216.71,470.78 L219.78,472.94 L222.84,475.15 L225.91,477.39 L228.97,479.67" stroke="#000" stroke-width="1.45" fill="none"/>
<path d="M45.10,424.04 L48.16,425.07 L51.23,426.11 L54.29,427.15 L57.36,428.20 L60.42,429.27 L63.49,430.34 L66.55,431.42 L69.62,432.51 L72.68,433.61 L75.75,434.72 L78.81,435.84 L81.87,436.97 L84.94,438.11 L88.00,439.27 L91.07,440.44 L94.13,441.62 L97.20,442.81 L100.26,444.02 L103.33,445.24 L106.39,446.48 L109.45,447.73 L112.52,449.00 L115.58,450.28 L118.65,451.58 L121.71,452.90 L124.78,454.23 L127.84,455.58 L130.91,456.94 L133.97,458.33 L137.03,459.73 L140.10,461.16 L143.16,462.60 L146.23,464.06 L149.29,465.54 L152.36,467.05 L155.42,468.57 L158.49,470.12 L161.55,471.68 L164.62,473.27 L167.68,474.88 L170.74,476.52 L173.81,478.18 L176.87,479.86 L179.94,481.56 L183.00,483.30 L186.07,485.05 L189.13,486.83 L192.20,488.64 L195.26,490.47 L198.33,492.33 L201.39,494.22 L204.45,496.13 L207.52,498.08 L210.58,500.05 L213.65,502.05 L216.71,504.07 L219.78,506.13 L222.84,508.22 L225.91,510.34 L228.97,512.49" stroke="#000" stroke-width="1.45" fill="none"/>
</g>
<rect x="45.10" y="315.80" width="183.87" height="200.40" fill="none" stroke="#000" stroke-width="2"/>
<path d="M52.45,315.80 v2.95 M52.45,516.20 v-2.95 M59.81,315.80 v2.95 M59.81,516.20 v-2.95 M67.16,315.80 v2.95 M67.16,516.20 v-2.95 M74.52,315.80 v2.95 M74.52,516.20 v-2.95 M81.87,315.80 v4.75 M81.87,516.20 v-4.75 M89.23,315.80 v2.95 M89.23,516.20 v-2.95 M96.58,315.80 v2.95 M96.58,516.20 v-2.95 M103.94,315.80 v2.95 M103.94,516.20 v-2.95 M111.29,315.80 v2.95 M111.29,516.20 v-2.95 M118.65,315.80 v4.75 M118.65,516.20 v-4.75 M126.00,315.80 v2.95 M126.00,516.20 v-2.95 M133.36,315.80 v2.95 M133.36,516.20 v-2.95 M140.71,315.80 v2.95 M140.71,516.20 v-2.95 M148.07,315.80 v2.95 M148.07,516.20 v-2.95 M155.42,315.80 v4.75 M155.42,516.20 v-4.75 M162.78,315.80 v2.95 M162.78,516.20 v-2.95 M170.13,315.80 v2.95 M170.13,516.20 v-2.95 M177.49,315.80 v2.95 M177.49,516.20 v-2.95 M184.84,315.80 v2.95 M184.84,516.20 v-2.95 M192.20,315.80 v4.75 M192.20,516.20 v-4.75 M199.55,315.80 v2.95 M199.55,516.20 v-2.95 M206.91,315.80 v2.95 M206.91,516.20 v-2.95 M214.26,315.80 v2.95 M214.26,516.20 v-2.95 M221.62,315.80 v2.95 M221.62,516.20 v-2.95 M45.10,510.03 h2.95 M228.97,510.03 h-2.95 M45.10,503.87 h2.95 M228.97,503.87 h-2.95 M45.10,497.70 h2.95 M228.97,497.70 h-2.95 M45.10,491.54 h2.95 M228.97,491.54 h-2.95 M45.10,485.37 h4.75 M228.97,485.37 h-4.75 M45.10,479.20 h2.95 M228.97,479.20 h-2.95 M45.10,473.04 h2.95 M228.97,473.04 h-2.95 M45.10,466.87 h2.95 M228.97,466.87 h-2.95 M45.10,460.70 h2.95 M228.97,460.70 h-2.95 M45.10,454.54 h4.75 M228.97,454.54 h-4.75 M45.10,448.37 h2.95 M228.97,448.37 h-2.95 M45.10,442.21 h2.95 M228.97,442.21 h-2.95 M45.10,436.04 h2.95 M228.97,436.04 h-2.95 M45.10,429.87 h2.95 M228.97,429.87 h-2.95 M45.10,423.71 h4.75 M228.97,423.71 h-4.75 M45.10,417.54 h2.95 M228.97,417.54 h-2.95 M45.10,411.38 h2.95 M228.97,411.38 h-2.95 M45.10,405.21 h2.95 M228.97,405.21 h-2.95 M45.10,399.04 h2.95 M228.97,399.04 h-2.95 M45.10,392.88 h4.75 M228.97,392.88 h-4.75 M45.10,386.71 h2.95 M228.97,386.71 h-2.95 M45.10,380.54 h2.95 M228.97,380.54 h-2.95 M45.10,374.38 h2.95 M228.97,374.38 h-2.95 M45.10,368.21 h2.95 M228.97,368.21 h-2.95 M45.10,362.05 h4.75 M228.97,362.05 h-4.75 M45.10,355.88 h2.95 M228.97,355.88 h-2.95 M45.10,349.71 h2.95 M228.97,349.71 h-2.95 M45.10,343.55 h2.95 M228.97,343.55 h-2.95 M45.10,337.38 h2.95 M228.97,337.38 h-2.95 M45.10,331.22 h4.75 M228.97,331.22 h-4.75 M45.10,325.05 h2.95 M228.97,325.05 h-2.95 M45.10,318.88 h2.95 M228.97,318.88 h-2.95" stroke="#000" stroke-width="1.35" fill="none"/>
<text x="40.10" y="520.60" font-size="12.3" text-anchor="end">110</text>
<text x="40.10" y="489.77" font-size="12.3" text-anchor="end">120</text>
<text x="40.10" y="458.94" font-size="12.3" text-anchor="end">130</text>
<text x="40.10" y="428.11" font-size="12.3" text-anchor="end">140</text>
<text x="40.10" y="397.28" font-size="12.3" text-anchor="end">150</text>
<text x="40.10" y="366.45" font-size="12.3" text-anchor="end">160</text>
<text x="40.10" y="335.62" font-size="12.3" text-anchor="end">170</text>
<text x="45.10" y="531.10" font-size="12.3" text-anchor="middle">0.0</text>
<text x="81.87" y="531.10" font-size="12.3" text-anchor="middle">0.2</text>
<text x="118.65" y="531.10" font-size="12.3" text-anchor="middle">0.4</text>
<text x="155.42" y="531.10" font-size="12.3" text-anchor="middle">0.6</text>
<text x="192.20" y="531.10" font-size="12.3" text-anchor="middle">0.8</text>
<text x="228.97" y="531.10" font-size="12.3" text-anchor="middle">1.0</text>
<text x="122.70" y="544.70" font-size="13.5">α</text><text x="131.40" y="547.10" font-size="9.5" font-style="italic">s</text>
<text transform="matrix(0.9026,0.4305,-0.2954,0.9972,169.70,437.10)" x="0" y="0" font-size="9.3" style="stroke-width:0.15px">3-flavor line</text>
<text transform="matrix(0.9121,0.4099,-0.2727,1.0036,110.60,457.90)" x="0" y="0" font-size="9.3" style="stroke-width:0.15px">2-flavor line</text>
<clipPath id="bande"><path d="M229.20,402.44 L232.26,403.36 L235.33,404.29 L238.39,405.21 L241.46,406.14 L244.52,407.08 L247.59,408.02 L250.65,408.96 L253.72,409.91 L256.78,410.87 L259.84,411.84 L262.91,412.81 L265.97,413.79 L269.04,414.78 L272.10,415.79 L275.17,416.80 L278.23,417.83 L281.30,418.87 L284.36,419.92 L287.43,420.98 L290.49,422.06 L293.55,423.16 L296.62,424.27 L299.68,425.40 L302.75,426.54 L305.81,427.70 L308.88,428.89 L311.94,430.09 L315.01,431.31 L318.07,432.55 L321.13,433.81 L324.20,435.10 L327.26,436.41 L330.33,437.74 L333.39,439.09 L336.46,440.47 L339.52,441.88 L342.59,443.31 L345.65,444.77 L348.72,446.26 L351.78,447.78 L354.84,449.32 L357.91,450.90 L360.97,452.50 L364.04,454.14 L367.10,455.80 L370.17,457.50 L373.23,459.24 L376.30,461.00 L379.36,462.80 L382.43,464.64 L385.49,466.51 L388.55,468.42 L391.62,470.37 L394.68,472.35 L397.75,474.38 L400.81,476.44 L403.88,478.54 L406.94,480.69 L410.01,482.87 L413.07,485.10 L413.07,514.32 L410.01,512.27 L406.94,510.25 L403.88,508.26 L400.81,506.31 L397.75,504.39 L394.68,502.50 L391.62,500.64 L388.55,498.82 L385.49,497.02 L382.43,495.26 L379.36,493.52 L376.30,491.82 L373.23,490.14 L370.17,488.49 L367.10,486.87 L364.04,485.27 L360.97,483.70 L357.91,482.16 L354.84,480.64 L351.78,479.15 L348.72,477.67 L345.65,476.22 L342.59,474.80 L339.52,473.39 L336.46,472.01 L333.39,470.65 L330.33,469.30 L327.26,467.98 L324.20,466.68 L321.13,465.39 L318.07,464.12 L315.01,462.87 L311.94,461.64 L308.88,460.42 L305.81,459.21 L302.75,458.02 L299.68,456.85 L296.62,455.69 L293.55,454.54 L290.49,453.40 L287.43,452.28 L284.36,451.16 L281.30,450.06 L278.23,448.97 L275.17,447.88 L272.10,446.81 L269.04,445.74 L265.97,444.68 L262.91,443.63 L259.84,442.59 L256.78,441.55 L253.72,440.51 L250.65,439.48 L247.59,438.46 L244.52,437.43 L241.46,436.42 L238.39,435.40 L235.33,434.38 L232.26,433.37 L229.20,432.35 Z"/></clipPath>
<clipPath id="fre"><rect x="229.20" y="315.80" width="183.87" height="200.40"/></clipPath>
<g clip-path="url(#fre)">
<g clip-path="url(#bande)">
<path d="M229.20,402.44 L232.26,403.36 L235.33,404.29 L238.39,405.21 L241.46,406.14 L244.52,407.08 L247.59,408.02 L250.65,408.96 L253.72,409.91 L256.78,410.87 L259.84,411.84 L262.91,412.81 L265.97,413.79 L269.04,414.78 L272.10,415.79 L275.17,416.80 L278.23,417.83 L281.30,418.87 L284.36,419.92 L287.43,420.98 L290.49,422.06 L293.55,423.16 L296.62,424.27 L299.68,425.40 L302.75,426.54 L305.81,427.70 L308.88,428.89 L311.94,430.09 L315.01,431.31 L318.07,432.55 L321.13,433.81 L324.20,435.10 L327.26,436.41 L330.33,437.74 L333.39,439.09 L336.46,440.47 L339.52,441.88 L342.59,443.31 L345.65,444.77 L348.72,446.26 L351.78,447.78 L354.84,449.32 L357.91,450.90 L360.97,452.50 L364.04,454.14 L367.10,455.80 L370.17,457.50 L373.23,459.24 L376.30,461.00 L379.36,462.80 L382.43,464.64 L385.49,466.51 L388.55,468.42 L391.62,470.37 L394.68,472.35 L397.75,474.38 L400.81,476.44 L403.88,478.54 L406.94,480.69 L410.01,482.87 L413.07,485.10 L413.07,514.32 L410.01,512.27 L406.94,510.25 L403.88,508.26 L400.81,506.31 L397.75,504.39 L394.68,502.50 L391.62,500.64 L388.55,498.82 L385.49,497.02 L382.43,495.26 L379.36,493.52 L376.30,491.82 L373.23,490.14 L370.17,488.49 L367.10,486.87 L364.04,485.27 L360.97,483.70 L357.91,482.16 L354.84,480.64 L351.78,479.15 L348.72,477.67 L345.65,476.22 L342.59,474.80 L339.52,473.39 L336.46,472.01 L333.39,470.65 L330.33,469.30 L327.26,467.98 L324.20,466.68 L321.13,465.39 L318.07,464.12 L315.01,462.87 L311.94,461.64 L308.88,460.42 L305.81,459.21 L302.75,458.02 L299.68,456.85 L296.62,455.69 L293.55,454.54 L290.49,453.40 L287.43,452.28 L284.36,451.16 L281.30,450.06 L278.23,448.97 L275.17,447.88 L272.10,446.81 L269.04,445.74 L265.97,444.68 L262.91,443.63 L259.84,442.59 L256.78,441.55 L253.72,440.51 L250.65,439.48 L247.59,438.46 L244.52,437.43 L241.46,436.42 L238.39,435.40 L235.33,434.38 L232.26,433.37 L229.20,432.35 Z" fill="url(#hatche)"/>
<path d="M229.20,411.38 L413.07,417.54 L413.07,487.68 L229.20,482.44 Z" fill="#00ffff"/>
<path d="M229.20,372.84 L413.07,387.64 L413.07,408.29 L229.20,401.51 Z" fill="#008080"/>
</g>
<path d="M229.20,411.38 L413.07,417.54" stroke="#808080" stroke-width="1.1" fill="none"/>
<path d="M229.20,482.44 L413.07,487.68" stroke="#6a6a6a" stroke-width="1.15" stroke-dasharray="4.6,4.6" stroke-dashoffset="4.2" fill="none"/>
<path d="M229.20,401.51 L413.07,408.29" stroke="#0000ff" stroke-width="1.3" fill="none"/>
<path d="M229.20,372.84 L413.07,387.64" stroke="#ff0000" stroke-width="1.3" fill="none"/>
<path d="M229.20,346.01 L413.07,353.72" stroke="#0000ff" stroke-width="1.3" stroke-dasharray="1.3,4.68" stroke-dashoffset="-5" fill="none"/>
<path d="M229.20,402.44 L232.26,403.36 L235.33,404.29 L238.39,405.21 L241.46,406.14 L244.52,407.08 L247.59,408.02 L250.65,408.96 L253.72,409.91 L256.78,410.87 L259.84,411.84 L262.91,412.81 L265.97,413.79 L269.04,414.78 L272.10,415.79 L275.17,416.80 L278.23,417.83 L281.30,418.87 L284.36,419.92 L287.43,420.98 L290.49,422.06 L293.55,423.16 L296.62,424.27 L299.68,425.40 L302.75,426.54 L305.81,427.70 L308.88,428.89 L311.94,430.09 L315.01,431.31 L318.07,432.55 L321.13,433.81 L324.20,435.10 L327.26,436.41 L330.33,437.74 L333.39,439.09 L336.46,440.47 L339.52,441.88 L342.59,443.31 L345.65,444.77 L348.72,446.26 L351.78,447.78 L354.84,449.32 L357.91,450.90 L360.97,452.50 L364.04,454.14 L367.10,455.80 L370.17,457.50 L373.23,459.24 L376.30,461.00 L379.36,462.80 L382.43,464.64 L385.49,466.51 L388.55,468.42 L391.62,470.37 L394.68,472.35 L397.75,474.38 L400.81,476.44 L403.88,478.54 L406.94,480.69 L410.01,482.87 L413.07,485.10" stroke="#000" stroke-width="1.45" fill="none"/>
<path d="M229.20,432.35 L232.26,433.37 L235.33,434.38 L238.39,435.40 L241.46,436.42 L244.52,437.43 L247.59,438.46 L250.65,439.48 L253.72,440.51 L256.78,441.55 L259.84,442.59 L262.91,443.63 L265.97,444.68 L269.04,445.74 L272.10,446.81 L275.17,447.88 L278.23,448.97 L281.30,450.06 L284.36,451.16 L287.43,452.28 L290.49,453.40 L293.55,454.54 L296.62,455.69 L299.68,456.85 L302.75,458.02 L305.81,459.21 L308.88,460.42 L311.94,461.64 L315.01,462.87 L318.07,464.12 L321.13,465.39 L324.20,466.68 L327.26,467.98 L330.33,469.30 L333.39,470.65 L336.46,472.01 L339.52,473.39 L342.59,474.80 L345.65,476.22 L348.72,477.67 L351.78,479.15 L354.84,480.64 L357.91,482.16 L360.97,483.70 L364.04,485.27 L367.10,486.87 L370.17,488.49 L373.23,490.14 L376.30,491.82 L379.36,493.52 L382.43,495.26 L385.49,497.02 L388.55,498.82 L391.62,500.64 L394.68,502.50 L397.75,504.39 L400.81,506.31 L403.88,508.26 L406.94,510.25 L410.01,512.27 L413.07,514.32" stroke="#000" stroke-width="1.45" fill="none"/>
</g>
<rect x="229.20" y="315.80" width="183.87" height="200.40" fill="none" stroke="#000" stroke-width="2"/>
<path d="M236.55,315.80 v2.95 M236.55,516.20 v-2.95 M243.91,315.80 v2.95 M243.91,516.20 v-2.95 M251.26,315.80 v2.95 M251.26,516.20 v-2.95 M258.62,315.80 v2.95 M258.62,516.20 v-2.95 M265.97,315.80 v4.75 M265.97,516.20 v-4.75 M273.33,315.80 v2.95 M273.33,516.20 v-2.95 M280.68,315.80 v2.95 M280.68,516.20 v-2.95 M288.04,315.80 v2.95 M288.04,516.20 v-2.95 M295.39,315.80 v2.95 M295.39,516.20 v-2.95 M302.75,315.80 v4.75 M302.75,516.20 v-4.75 M310.10,315.80 v2.95 M310.10,516.20 v-2.95 M317.46,315.80 v2.95 M317.46,516.20 v-2.95 M324.81,315.80 v2.95 M324.81,516.20 v-2.95 M332.17,315.80 v2.95 M332.17,516.20 v-2.95 M339.52,315.80 v4.75 M339.52,516.20 v-4.75 M346.88,315.80 v2.95 M346.88,516.20 v-2.95 M354.23,315.80 v2.95 M354.23,516.20 v-2.95 M361.59,315.80 v2.95 M361.59,516.20 v-2.95 M368.94,315.80 v2.95 M368.94,516.20 v-2.95 M376.30,315.80 v4.75 M376.30,516.20 v-4.75 M383.65,315.80 v2.95 M383.65,516.20 v-2.95 M391.01,315.80 v2.95 M391.01,516.20 v-2.95 M398.36,315.80 v2.95 M398.36,516.20 v-2.95 M405.72,315.80 v2.95 M405.72,516.20 v-2.95 M229.20,510.03 h2.95 M413.07,510.03 h-2.95 M229.20,503.87 h2.95 M413.07,503.87 h-2.95 M229.20,497.70 h2.95 M413.07,497.70 h-2.95 M229.20,491.54 h2.95 M413.07,491.54 h-2.95 M229.20,485.37 h4.75 M413.07,485.37 h-4.75 M229.20,479.20 h2.95 M413.07,479.20 h-2.95 M229.20,473.04 h2.95 M413.07,473.04 h-2.95 M229.20,466.87 h2.95 M413.07,466.87 h-2.95 M229.20,460.70 h2.95 M413.07,460.70 h-2.95 M229.20,454.54 h4.75 M413.07,454.54 h-4.75 M229.20,448.37 h2.95 M413.07,448.37 h-2.95 M229.20,442.21 h2.95 M413.07,442.21 h-2.95 M229.20,436.04 h2.95 M413.07,436.04 h-2.95 M229.20,429.87 h2.95 M413.07,429.87 h-2.95 M229.20,423.71 h4.75 M413.07,423.71 h-4.75 M229.20,417.54 h2.95 M413.07,417.54 h-2.95 M229.20,411.38 h2.95 M413.07,411.38 h-2.95 M229.20,405.21 h2.95 M413.07,405.21 h-2.95 M229.20,399.04 h2.95 M413.07,399.04 h-2.95 M229.20,392.88 h4.75 M413.07,392.88 h-4.75 M229.20,386.71 h2.95 M413.07,386.71 h-2.95 M229.20,380.54 h2.95 M413.07,380.54 h-2.95 M229.20,374.38 h2.95 M413.07,374.38 h-2.95 M229.20,368.21 h2.95 M413.07,368.21 h-2.95 M229.20,362.05 h4.75 M413.07,362.05 h-4.75 M229.20,355.88 h2.95 M413.07,355.88 h-2.95 M229.20,349.71 h2.95 M413.07,349.71 h-2.95 M229.20,343.55 h2.95 M413.07,343.55 h-2.95 M229.20,337.38 h2.95 M413.07,337.38 h-2.95 M229.20,331.22 h4.75 M413.07,331.22 h-4.75 M229.20,325.05 h2.95 M413.07,325.05 h-2.95 M229.20,318.88 h2.95 M413.07,318.88 h-2.95" stroke="#000" stroke-width="1.35" fill="none"/>
<text x="265.97" y="531.10" font-size="12.3" text-anchor="middle">0.2</text>
<text x="302.75" y="531.10" font-size="12.3" text-anchor="middle">0.4</text>
<text x="339.52" y="531.10" font-size="12.3" text-anchor="middle">0.6</text>
<text x="376.30" y="531.10" font-size="12.3" text-anchor="middle">0.8</text>
<text x="413.07" y="531.10" font-size="12.3" text-anchor="middle">1.0</text>
<text x="306.80" y="544.70" font-size="13.5">α</text><text x="315.50" y="547.10" font-size="9.5" font-style="italic">s</text>
<text transform="matrix(0.9048,0.4258,-0.2902,0.9987,333.90,433.00)" x="0" y="0" font-size="9.3" style="stroke-width:0.15px">3-flavor line</text>
<text transform="matrix(0.9092,0.4163,-0.2797,1.0017,279.30,459.20)" x="0" y="0" font-size="9.3" style="stroke-width:0.15px">2-flavor line</text>
<g transform="translate(15.8,159.5) rotate(-90)"><text x="-30.5" y="0" font-size="13" font-style="italic">B</text><text x="-21.3" y="-3.1" font-size="9.4">1/4</text><text x="-5.5" y="0" font-size="13">(MeV)</text></g>
<g transform="translate(14.0,417.7) rotate(-90)"><text x="-30.5" y="0" font-size="13" font-style="italic">B</text><text x="-21.3" y="-3.1" font-size="9.4">1/4</text><text x="-5.5" y="0" font-size="13">(MeV)</text></g>
<text x="99.89" y="82.90" font-size="13.2">(a)</text><text x="119.50" y="82.90" font-size="13.9" font-style="italic">g</text><text x="129.80" y="75.90" font-size="8.4" font-style="italic">2</text><text x="134.50" y="82.90" font-size="13.9" font-style="italic">/</text><text x="137.70" y="82.90" font-size="14.8" font-style="italic">μ</text><text x="148.80" y="75.90" font-size="8.4" font-style="italic">2</text><text x="152.60" y="82.90" font-size="13.2">=0</text>
<text x="266.44" y="82.90" font-size="13.2">(b)</text><text x="286.00" y="82.90" font-size="13.9" font-style="italic">g</text><text x="296.60" y="75.90" font-size="8.4" font-style="italic">2</text><text x="301.30" y="82.90" font-size="13.9" font-style="italic">/</text><text x="305.00" y="82.90" font-size="14.8" font-style="italic">μ</text><text x="315.70" y="75.90" font-size="8.4" font-style="italic">2</text><text x="319.90" y="82.90" font-size="13.2">=</text><text x="327.10" y="82.90" font-size="13.2">1.37</text><text x="356.50" y="82.90" font-size="13.2">GeV</text><text x="382.60" y="75.90" font-size="8.4">-2</text>
<text x="454.14" y="81.00" font-size="13.2">(c)</text><text x="473.20" y="81.00" font-size="13.9" font-style="italic">g</text><text x="483.50" y="74.00" font-size="8.4" font-style="italic">2</text><text x="488.80" y="81.00" font-size="13.9" font-style="italic">/</text><text x="492.30" y="81.00" font-size="14.8" font-style="italic">μ</text><text x="502.60" y="74.00" font-size="8.4" font-style="italic">2</text><text x="506.80" y="81.00" font-size="13.2">=</text><text x="514.20" y="81.00" font-size="13.2">3.25</text><text x="539.20" y="81.00" font-size="13.2">GeV</text><text x="566.10" y="74.00" font-size="8.4">-2</text>
<text x="79.14" y="337.70" font-size="13.2">(d)</text><text x="95.40" y="337.70" font-size="13.9" font-style="italic">g</text><text x="105.30" y="330.70" font-size="8.4" font-style="italic">2</text><text x="110.00" y="337.70" font-size="13.9" font-style="italic">/</text><text x="113.50" y="337.70" font-size="14.8" font-style="italic">μ</text><text x="123.80" y="330.70" font-size="8.4" font-style="italic">2</text><text x="128.00" y="337.70" font-size="13.2">=</text><text x="135.60" y="337.70" font-size="13.2">4.61</text><text x="161.40" y="337.70" font-size="13.2">GeV</text><text x="187.80" y="330.70" font-size="8.4">-2</text>
<text x="264.74" y="337.70" font-size="13.2">(e)</text><text x="285.10" y="337.70" font-size="13.9" font-style="italic">g</text><text x="295.40" y="330.70" font-size="8.4" font-style="italic">2</text><text x="300.70" y="337.70" font-size="13.9" font-style="italic">/</text><text x="304.20" y="337.70" font-size="14.8" font-style="italic">μ</text><text x="314.50" y="330.70" font-size="8.4" font-style="italic">2</text><text x="318.70" y="337.70" font-size="13.2">=</text><text x="325.30" y="337.70" font-size="13.2">7.28</text><text x="351.00" y="337.70" font-size="13.2">GeV</text><text x="378.10" y="330.70" font-size="8.4">-2</text>
</svg></body></html>
